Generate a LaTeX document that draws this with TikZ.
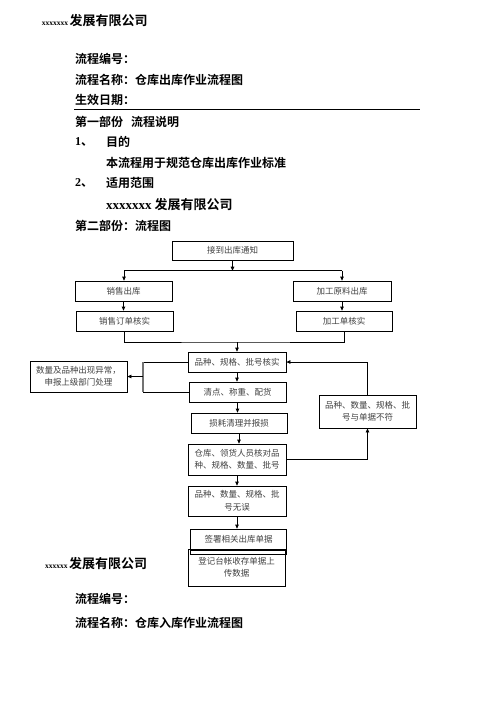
\documentclass[tikz,border=0pt]{standalone}
\usepackage{fontspec}
\setmainfont{Liberation Serif}
\newfontfamily\cjk{Noto Sans CJK SC}[BoldFont={Noto Sans CJK SC Bold}]
\newfontfamily\latin{Liberation Serif}
\usetikzlibrary{arrows.meta}
\begin{document}
\begin{tikzpicture}[x=1pt,y=-1pt,
  box/.style={draw, line width=0.8pt, inner sep=1pt, align=center,
    font=\cjk\fontsize{8.5}{12.5}\selectfont, text=black!75},
  head/.style={anchor=west, inner sep=0pt, font=\cjk\bfseries\fontsize{12}{14}\selectfont},
  arr/.style={-{Triangle[length=4pt,width=3.6pt]}, line width=0.8pt},
  ln/.style={line width=0.8pt}]
\useasboundingbox (0,0) rectangle (496,702);

% ---- page texts ----
\node[anchor=base west, inner sep=0pt, font=\cjk\bfseries\fontsize{13}{15}\selectfont] (co1) at (41.7,25)
  {{\latin\fontsize{7.5}{9}\selectfont xxxxxxx}\hspace{1.5pt}发展有限公司};
\node[head] (no1) at (75,59) {流程编号：};
\node[head] (nm1) at (75,80) {流程名称：仓库出库作业流程图};
\node[head] (dt1) at (75,100) {生效日期：};
\coordinate (rl) at (74,109);
\coordinate (rr) at (420,109);
\draw[line width=0.8pt] (rl) -- (rr);
\node[head] (p1) at (75,122) {第一部份\hspace{8pt}流程说明};
\node[head] (n1) at (75,142) {{\latin\bfseries 1}、};
\node[head] (g1) at (106,142) {目的};
\node[head] (g2) at (106,163) {本流程用于规范仓库出库作业标准};
\node[head] (n2) at (75,183) {{\latin\bfseries 2}、};
\node[head] (s1) at (106,183) {适用范围};
\node[head, font=\cjk\bfseries\fontsize{13}{15}\selectfont] (s2) at (106,205) {{\latin\bfseries xxxxxxx} 发展有限公司};
\node[head] (p2) at (75,226) {第二部份：流程图};

\node[anchor=base west, inner sep=0pt, font=\cjk\bfseries\fontsize{13}{15}\selectfont] (co2) at (45,568)
  {{\latin\fontsize{7.5}{9}\selectfont xxxxxx}\hspace{1.5pt}发展有限公司};
\node[head] (no2) at (75,599) {流程编号：};
\node[head] (nm2) at (75,623) {流程名称：仓库入库作业流程图};

% ---- flow chart boxes ----
\node[box, minimum width=121pt, minimum height=19pt] (notify) at (232.5,250.5) {接到出库通知};
\node[box, minimum width=97pt, minimum height=20pt] (sale) at (123.5,291) {销售出库};
\node[box, minimum width=98pt, minimum height=20pt] (proc) at (342,291) {加工原料出库};
\node[box, minimum width=97pt, minimum height=20pt] (saleck) at (124.5,321) {销售订单核实};
\node[box, minimum width=96pt, minimum height=20pt] (procck) at (344,321) {加工单核实};
\node[box, minimum width=98pt, minimum height=20pt] (verify) at (237,362) {品种、规格、批号核实};
\node[box, minimum width=97pt, minimum height=31pt] (abnormal) at (78.5,376.5) {数量及品种出现异常，\\申报上级部门处理};
\node[box, minimum width=97pt, minimum height=20pt] (count) at (237.5,392) {清点、称重、配货};
\node[box, minimum width=96pt, minimum height=20pt] (loss) at (239,423) {损耗清理并报损};
\node[box, minimum width=97pt, minimum height=33pt] (mismatch) at (367.5,411.5) {品种、数量、规格、批\\号与单据不符};
\node[box, minimum width=98pt, minimum height=31pt] (check) at (237,459.5) {仓库、领货人员核对品\\种、规格、数量、批号};
\node[box, minimum width=98pt, minimum height=30pt] (ok) at (237,501) {品种、数量、规格、批\\号无误};
\node[box, minimum width=96pt, minimum height=21pt] (sign) at (238.7,539.5) {签署相关出库单据};
\draw[ln] (sign.south west) -- ++(0,4) -- ++(96,0) -- ++(0,-4);
\node[box, minimum width=97pt, minimum height=37pt] (reg) at (236.5,567.5) {登记台帐收存单据上\\传数据};

% ---- connectors ----
\coordinate (jt) at (232.5,270.7);
\coordinate (jl) at (124,270.7);
\coordinate (jr) at (342,270.7);
\draw[arr] (notify.south) -- (jt);
\draw[ln] (jl) -- (jr);
\draw[arr] (jl) -- (jl |- sale.north);
\draw[arr] (jr) -- (jr |- proc.north);
\draw[arr] (sale.south) -- (sale.south |- saleck.north);
\draw[arr] (proc.south) -- (proc.south |- procck.north);
\coordinate (mb) at (237,342);
\draw[ln] (saleck.south) |- (mb) -| (procck.south);
\draw[arr] (mb) -- (verify.north);
\draw[arr] (verify.south) -- (verify.south |- count.north);
\draw[arr] (count.south) -- (count.south |- loss.north);
\draw[arr] (loss.south) -- (loss.south |- check.north);
\draw[arr] (check.south) -- (ok.north);
\draw[arr] (ok.south) -- (ok.south |- sign.north);

\coordinate (bx) at (143,376.5);
\draw[ln] (verify.west) -- (verify.west -| bx);
\draw[ln] (count.west) -- (count.west -| bx);
\draw[line width=1.6pt, black!55] (verify.west -| bx) -- (count.west -| bx);
\draw[arr] (bx) -- (abnormal.east);

\draw[arr] (mismatch.north) |- (verify.east);
\draw[arr] (check.east) -| (mismatch.south);
\end{tikzpicture}
\end{document}
